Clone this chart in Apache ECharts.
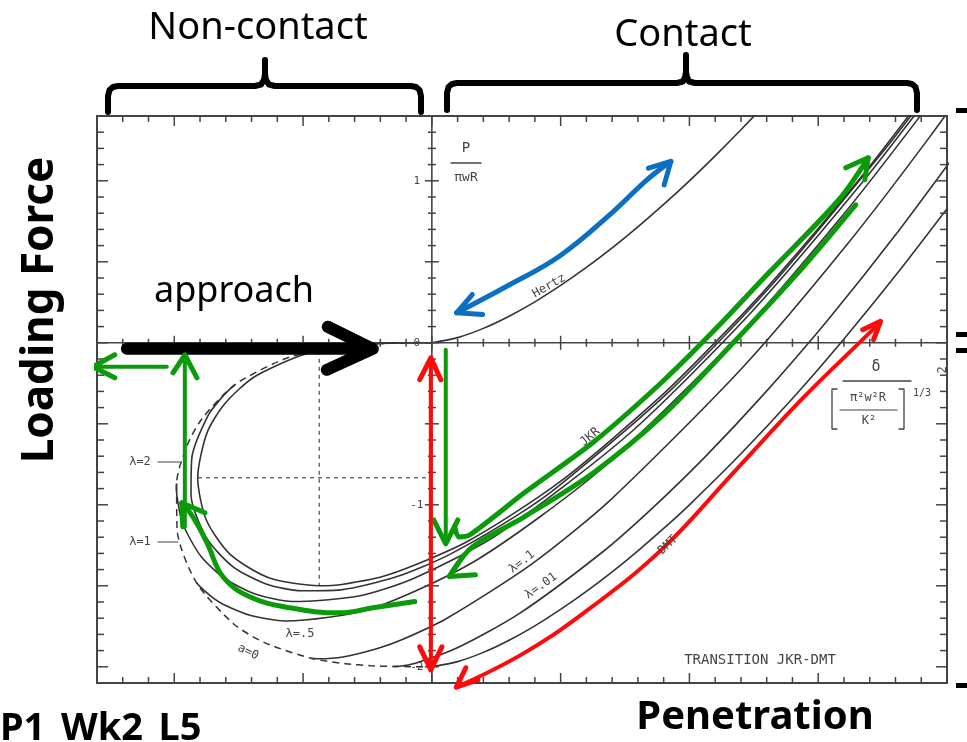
<!DOCTYPE html>
<html><head><meta charset="utf-8">
<script src="https://cdn.jsdelivr.net/npm/echarts@6/dist/echarts.min.js"></script>
<style>html,body{margin:0;padding:0;background:#fff}#c{width:967px;height:742px}</style>
</head><body><div id="c"></div>
<script>
// ---- axis extents & ticks (normalised penetration / load) ----
const X_MIN = -1.3, X_MAX = 2.0, Y_MIN = -2.1, Y_MAX = 1.4;
const xTicks = [-1.3,-1.2,-1.1,-1.0,-0.9,-0.8,-0.7,-0.6,-0.5,-0.4,-0.3,-0.2,-0.1,0,0.1,0.2,0.3,0.4,0.5,0.6,0.7,0.8,0.9,1.0,1.1,1.2,1.3,1.4,1.5,1.6,1.7,1.8,1.9,2.0];
const yTicks = [-2.1,-2.0,-1.9,-1.8,-1.7,-1.6,-1.5,-1.4,-1.3,-1.2,-1.1,-1.0,-0.9,-0.8,-0.7,-0.6,-0.5,-0.4,-0.3,-0.2,-0.1,0,0.1,0.2,0.3,0.4,0.5,0.6,0.7,0.8,0.9,1.0,1.1,1.2,1.3,1.4];
const yTickLabelValues = [1, 0, -1, -2];
const yTickLabelTexts = ['1', '0', '-1', '-2'];
const xTickLabelValues = [2];
const xTickLabelTexts = ['2'];

// ---- curves [penetration, load] ----
const hertz = [[0,0],[0.1,0.032],[0.2,0.089],[0.3,0.164],[0.4,0.253],[0.5,0.354],[0.6,0.465],[0.7,0.586],[0.8,0.716],[0.9,0.854],[1.0,1.0],[1.1,1.154],[1.2,1.315],[1.3,1.482]];
const jkr = [[0,0],[-0.163,-0.002],[-0.231,-0.007],[-0.363,-0.027],[-0.506,-0.077],[-0.690,-0.211],[-0.804,-0.376],[-0.873,-0.556],[-0.909,-0.833],[-0.876,-1.092],[-0.783,-1.306],[-0.633,-1.450],[-0.437,-1.500],[-0.349,-1.492],[-0.172,-1.434],[0.136,-1.228],[0.494,-0.862],[0.902,-0.311],[1.201,0.168],[1.359,0.444],[1.691,1.072],[2.044,1.807]];
const lambda2 = [[-0.763,-0.257],[-0.768,-0.264],[-0.782,-0.283],[-0.812,-0.331],[-0.869,-0.449],[-0.932,-0.713],[-0.935,-0.936],[-0.876,-1.201],[-0.773,-1.381],[-0.646,-1.487],[-0.507,-1.531],[-0.354,-1.525],[-0.135,-1.443],[0.066,-1.309],[0.332,-1.064],[0.498,-0.877],[0.924,-0.297],[1.323,0.363],[1.759,1.195],[1.930,1.548]];
const lambda1 = [[-0.991,-0.868],[-0.992,-0.887],[-0.990,-0.940],[-0.976,-1.066],[-0.957,-1.154],[-0.896,-1.319],[-0.804,-1.455],[-0.686,-1.550],[-0.542,-1.597],[-0.283,-1.563],[-0.069,-1.453],[0.252,-1.187],[0.765,-0.563],[1.236,0.181],[1.662,0.972],[1.922,1.504]];
const lambda05 = [[-0.915,-1.478],[-0.900,-1.505],[-0.851,-1.573],[-0.809,-1.615],[-0.703,-1.683],[-0.569,-1.717],[-0.235,-1.641],[0.176,-1.339],[0.656,-0.782],[1.197,0.054],[1.589,0.775],[1.883,1.373],[2.112,1.869]];
const lambda01 = [[-0.469,-1.947],[-0.439,-1.950],[-0.345,-1.939],[-0.211,-1.887],[-0.112,-1.830],[0.057,-1.702],[0.390,-1.363],[0.696,-0.966],[1.210,-0.146],[1.615,0.613],[1.938,1.282],[2.199,1.862]];
const lambda001 = [[-0.150,-1.998],[-0.128,-1.997],[-0.061,-1.976],[0.099,-1.883],[0.339,-1.672],[0.659,-1.296],[0.849,-1.031],[1.059,-0.707],[1.289,-0.317],[1.539,0.144],[1.808,0.682],[2.098,1.304]];
const dmt = [[0,-2],[0.1,-1.968],[0.2,-1.911],[0.3,-1.836],[0.4,-1.747],[0.5,-1.646],[0.6,-1.535],[0.7,-1.414],[0.8,-1.284],[0.9,-1.146],[1.0,-1.0],[1.2,-0.685],[1.4,-0.344],[1.6,0.024],[1.8,0.415],[2.0,0.828]];
const aZero = [[0,0],[-0.175,-0.003],[-0.347,-0.021],[-0.557,-0.091],[-0.763,-0.257],[-0.893,-0.470],[-0.952,-0.641],[-0.991,-0.868],[-0.989,-1.153],[-0.915,-1.478],[-0.768,-1.737],[-0.648,-1.852],[-0.469,-1.947],[-0.335,-1.981],[-0.238,-1.993],[-0.150,-1.998],[0,-2]];
const dottedV = [[-0.437,0],[-0.437,-1.5]];
const dottedH = [[-0.908,-0.833],[0,-0.833]];
const axisH = [[X_MIN,0],[X_MAX,0]];
const axisV = [[0,Y_MIN],[0,Y_MAX]];

// ---- annotation arrows [penetration, load] ----
const approachShaft = [[-1.184,-0.037],[-0.235,-0.037]];
const approachHead = [[-0.404,0.099],[-0.229,-0.037],[-0.408,-0.167]];
const blueArc = [[0.096,0.185],[0.291,0.349],[0.495,0.534],[0.699,0.802],[0.835,1.006],[0.928,1.120]];
const blueHeadLow = [[0.157,0.298],[0.096,0.185],[0.197,0.174]];
const blueHeadHigh = [[0.841,1.078],[0.928,1.120],[0.902,0.975]];
const greenUp = [[0.089,-1.136],[0.105,-1.198],[0.148,-1.185],[0.359,-0.926],[0.629,-0.611],[0.901,-0.231],[1.102,0.086],[1.308,0.432],[1.580,0.883],[1.694,1.142]];
const greenUpHead = [[1.607,1.080],[1.694,1.142],[1.681,1.006]];
const greenDown = [[1.646,0.852],[1.444,0.472],[1.170,0.0],[0.901,-0.442],[0.629,-0.800],[0.359,-1.074],[0.155,-1.263],[0.068,-1.442]];
const greenDownHead = [[0.122,-1.315],[0.068,-1.442],[0.169,-1.432]];
const greenDrop = [[0.054,-0.043],[0.054,-1.241]];
const greenDropHead = [[0.007,-1.093],[0.054,-1.241],[0.101,-1.093]];
const greenLoop = [[-0.066,-1.597],[-0.229,-1.636],[-0.357,-1.667],[-0.551,-1.636],[-0.707,-1.568],[-0.811,-1.444],[-0.873,-1.235],[-0.928,-1.074],[-0.971,-0.988]];
const greenLoopHead = [[-0.881,-1.049],[-0.971,-0.988],[-0.967,-1.136]];
const greenRise = [[-0.959,-1.136],[-0.959,-0.074]];
const greenRiseHead = [[-1.005,-0.185],[-0.959,-0.074],[-0.912,-0.216]];
const greenLeft = [[-1.029,-0.148],[-1.316,-0.148]];
const greenLeftHead = [[-1.231,-0.074],[-1.316,-0.148],[-1.231,-0.216]];
const redVert = [[-0.004,-0.093],[-0.004,-2.019]];
const redVertHeadTop = [[-0.047,-0.228],[-0.004,-0.093],[0.035,-0.228]];
const redVertHeadBot = [[-0.047,-1.877],[-0.004,-2.019],[0.039,-1.877]];
const redArc = [[0.095,-2.126],[0.359,-1.914],[0.629,-1.621],[0.901,-1.263],[1.172,-0.800],[1.443,-0.337],[1.714,0.084],[1.742,0.133]];
const redArcHeadTop = [[1.673,0.081],[1.742,0.133],[1.715,0.020]];
const redArcHeadBot = [[0.132,-2.006],[0.095,-2.126],[0.179,-2.080]];

const SCAN = '#333';
const GREEN = '#0a9a0a', BLUE = '#0b6fc2', RED = '#ff0a0a';

function curve(name, data, extra) {
  return Object.assign({type:'line', name, data, showSymbol:false, symbol:'none', smooth:0.25,
    silent:true, z:2, lineStyle:{color:SCAN, width:1.6}}, extra || {});
}
function stroke(name, data, color, width, smooth) {
  return {type:'line', name, data, showSymbol:false, symbol:'none', smooth: smooth || 0, clip:false,
    silent:true, z:6, lineStyle:{color, width, cap:'round', join:'round'}};
}
function isMajor(v) { return Math.abs(v * 2 - Math.round(v * 2)) < 1e-6; }
function tickStyle() { return {stroke:'#444', lineWidth:1.5}; }

function renderXTick(params, api) {
  const v = api.value(0);
  const L = isMajor(v) ? 10 : 6, C = isMajor(v) ? 7 : 4;
  const b = api.coord([v, Y_MIN]), t = api.coord([v, Y_MAX]), c = api.coord([v, 0]);
  return {type:'group', children:[
    {type:'line', shape:{x1:b[0], y1:b[1], x2:b[0], y2:b[1] - L}, style:tickStyle()},
    {type:'line', shape:{x1:t[0], y1:t[1], x2:t[0], y2:t[1] + L}, style:tickStyle()},
    {type:'line', shape:{x1:c[0], y1:c[1] - C, x2:c[0], y2:c[1] + C}, style:tickStyle()}
  ]};
}
function renderYTick(params, api) {
  const v = api.value(1);
  const L = isMajor(v) ? 11 : 7, C = isMajor(v) ? 7 : 4;
  const l = api.coord([X_MIN, v]), r = api.coord([X_MAX, v]), c = api.coord([0, v]);
  return {type:'group', children:[
    {type:'line', shape:{x1:l[0], y1:l[1], x2:l[0] + L, y2:l[1]}, style:tickStyle()},
    {type:'line', shape:{x1:r[0], y1:r[1], x2:r[0] - L, y2:r[1]}, style:tickStyle()},
    {type:'line', shape:{x1:c[0] - C, y1:c[1], x2:c[0] + C, y2:c[1]}, style:tickStyle()}
  ]};
}
function renderYLabel(params, api) {
  const p = api.coord([0, api.value(1)]);
  return {type:'text', x:p[0] - 15, y:p[1], style:{text: yTickLabelTexts[params.dataIndex], font:'11px "DejaVu Sans Mono"', fill:'#444', align:'center', verticalAlign:'middle', textAlign:'center', textVerticalAlign:'middle'}};
}
function renderXLabel(params, api) {
  const p = api.coord([api.value(0), 0]);
  return {type:'text', x:p[0] - 4, y:p[1] + 27, rotation:Math.PI / 2, style:{text: xTickLabelTexts[params.dataIndex], font:'12px "DejaVu Sans Mono"', fill:'#444', align:'center', verticalAlign:'middle', textAlign:'center', textVerticalAlign:'middle'}};
}

function txt(text, x, y, font, opt) {
  opt = opt || {};
  return {type:'text', x, y, rotation: opt.rot || 0, z:20,
    style:{text, font, fill: opt.fill || '#000', align: opt.align || 'center', verticalAlign: opt.va || 'middle',
      textAlign: opt.align || 'center', textVerticalAlign: opt.va || 'middle'}};
}
function pl(points, width, color) {
  return {type:'polyline', z:20, shape:{points}, style:{stroke: color || '#000', lineWidth: width, fill:null, lineCap:'round', lineJoin:'round'}};
}
const CF = '"Noto Sans", sans-serif';
const MF = '"DejaVu Sans Mono", monospace';
const graphics = [
  txt('Non-contact', 258, 28, '38px ' + CF),
  txt('Contact', 683, 35, '38px ' + CF),
  txt('Loading Force', 40, 310, 'bold 44px ' + CF, {rot: Math.PI / 2}),
  txt('approach', 234, 292, '36px ' + CF),
  txt('Penetration', 755, 718, 'bold 40px ' + CF),
  txt('P1_Wk2_L5', 0, 710, 'bold 38px ' + CF, {align:'left', va:'top'}),
  // non-contact brace
  pl([[108,112],[108,96],[109.5,90],[113,87],[118,86],[255,86],[261,84.5],[264,80],[265,74],[265,60]], 6),
  pl([[265,74],[266,80],[269,84.5],[275,86],[411,86],[416,87],[419.5,90],[421,96],[421,112]], 6),
  // contact brace
  pl([[447,110],[447,93],[448.5,87],[452,84],[457,83],[677,83],[683,81.5],[685,77],[686,72],[686,55]], 6),
  pl([[686,72],[687,77],[689,81.5],[695,83],[907,83],[912,84],[915.5,87],[917,93],[917,110]], 6),
  // cut-off marks at right
  {type:'rect', z:20, shape:{x:956, y:108, width:11, height:5}, style:{fill:'#000'}},
  {type:'rect', z:20, shape:{x:956, y:332, width:11, height:5}, style:{fill:'#000'}},
  {type:'rect', z:20, shape:{x:956, y:348, width:11, height:5}, style:{fill:'#000'}},
  {type:'rect', z:20, shape:{x:956, y:683, width:11, height:5}, style:{fill:'#000'}},
  // scanned figure labels
  txt('P', 466, 148, '14px ' + MF, {fill:'#444'}),
  pl([[451,163],[481,163]], 1.3, '#444'),
  txt('πwR', 466, 178, '13px ' + MF, {fill:'#444'}),
  txt('Hertz', 549, 286, '12px ' + MF, {fill:'#444', rot:0.52}),
  txt('JKR', 590, 437, '12px ' + MF, {fill:'#444', rot:0.7}),
  txt('λ=.1', 522, 562, '12px ' + MF, {fill:'#444', rot:0.66}),
  txt('λ=.01', 541, 586, '12px ' + MF, {fill:'#444', rot:0.62}),
  txt('DMT', 668, 545, '12px ' + MF, {fill:'#444', rot:0.75}),
  txt('TRANSITION JKR-DMT', 760, 660, '14px ' + MF, {fill:'#444'}),
  txt('δ', 876, 367, '15px ' + MF, {fill:'#444'}),
  pl([[843,381],[911,381]], 1.3, '#444'),
  pl([[837,389],[832,389],[832,429],[837,429]], 1.3, '#444'),
  pl([[899,389],[904,389],[904,429],[899,429]], 1.3, '#444'),
  txt('π²w²R', 868, 398, '12px ' + MF, {fill:'#444'}),
  pl([[840,410],[897,410]], 1.2, '#444'),
  txt('K²', 869, 421, '12px ' + MF, {fill:'#444'}),
  txt('1/3', 922, 393, '10px ' + MF, {fill:'#444'}),
  txt('λ=2', 140, 462, '12px ' + MF, {fill:'#444'}),
  pl([[158,462],[180,462]], 1.2, '#444'),
  txt('λ=1', 140, 542, '12px ' + MF, {fill:'#444'}),
  pl([[158,542],[178,542]], 1.2, '#444'),
  txt('λ=.5', 300, 634, '12px ' + MF, {fill:'#444'}),
  txt('a=0', 248, 652, '12px ' + MF, {fill:'#444', rot:-0.45})
];

const series = [
  curve('axisH', axisH, {smooth:false, lineStyle:{color:'#444', width:1.6}}),
  curve('axisV', axisV, {smooth:false, lineStyle:{color:'#444', width:1.6}}),
  {type:'custom', name:'xticks', coordinateSystem:'cartesian2d', data: xTicks.map(v => [v, 0]), encode:{x:0, y:1}, renderItem: renderXTick, silent:true, z:3, clip:false},
  {type:'custom', name:'yticks', coordinateSystem:'cartesian2d', data: yTicks.map(v => [0, v]), encode:{x:0, y:1}, renderItem: renderYTick, silent:true, z:3, clip:false},
  {type:'custom', name:'ylabels', coordinateSystem:'cartesian2d', data: yTickLabelValues.map(v => [0, v]), encode:{x:0, y:1}, renderItem: renderYLabel, silent:true, z:3, clip:false},
  {type:'custom', name:'xlabels', coordinateSystem:'cartesian2d', data: xTickLabelValues.map(v => [v, 0]), encode:{x:0, y:1}, renderItem: renderXLabel, silent:true, z:3, clip:false},
  curve('dottedV', dottedV, {smooth:false, lineStyle:{color:'#666', width:1.4, type:[4,4]}}),
  curve('dottedH', dottedH, {smooth:false, lineStyle:{color:'#666', width:1.4, type:[4,4]}}),
  curve('Hertz', hertz),
  curve('JKR', jkr),
  curve('lambda=2', lambda2),
  curve('lambda=1', lambda1),
  curve('lambda=0.5', lambda05),
  curve('lambda=0.1', lambda01),
  curve('lambda=0.01', lambda001),
  curve('DMT', dmt),
  curve('a=0', aZero, {lineStyle:{color:SCAN, width:1.5, type:[7,5]}}),
  stroke('approach', approachShaft, '#000', 12),
  stroke('approachHead', approachHead, '#000', 12),
  stroke('blueArc', blueArc, BLUE, 5, 0.4),
  stroke('blueHeadLow', blueHeadLow, BLUE, 5),
  stroke('blueHeadHigh', blueHeadHigh, BLUE, 5),
  stroke('greenUp', greenUp, GREEN, 5, 0.3),
  stroke('greenUpHead', greenUpHead, GREEN, 5),
  stroke('greenDown', greenDown, GREEN, 5, 0.3),
  stroke('greenDownHead', greenDownHead, GREEN, 5),
  stroke('greenDrop', greenDrop, GREEN, 4),
  stroke('greenDropHead', greenDropHead, GREEN, 5),
  stroke('greenLoop', greenLoop, GREEN, 5, 0.4),
  stroke('greenLoopHead', greenLoopHead, GREEN, 5),
  stroke('greenRise', greenRise, GREEN, 4),
  stroke('greenRiseHead', greenRiseHead, GREEN, 5),
  stroke('greenLeft', greenLeft, GREEN, 4),
  stroke('greenLeftHead', greenLeftHead, GREEN, 5),
  stroke('redVert', redVert, RED, 4),
  stroke('redVertHeadTop', redVertHeadTop, RED, 5),
  stroke('redVertHeadBot', redVertHeadBot, RED, 5),
  stroke('redArc', redArc, RED, 4, 0.4),
  stroke('redArcHeadTop', redArcHeadTop, RED, 5),
  stroke('redArcHeadBot', redArcHeadBot, RED, 5)
];

const chart = echarts.init(document.getElementById('c'), null, {renderer:'canvas'});
chart.setOption({
  animation:false,
  backgroundColor:'#fff',
  grid:{left:97, top:116, width:850, height:567, show:true, borderColor:'#444', borderWidth:2},
  xAxis:{type:'value', min:X_MIN, max:X_MAX, show:false},
  yAxis:{type:'value', min:Y_MIN, max:Y_MAX, show:false},
  graphic: graphics,
  series
});
</script></body></html>
